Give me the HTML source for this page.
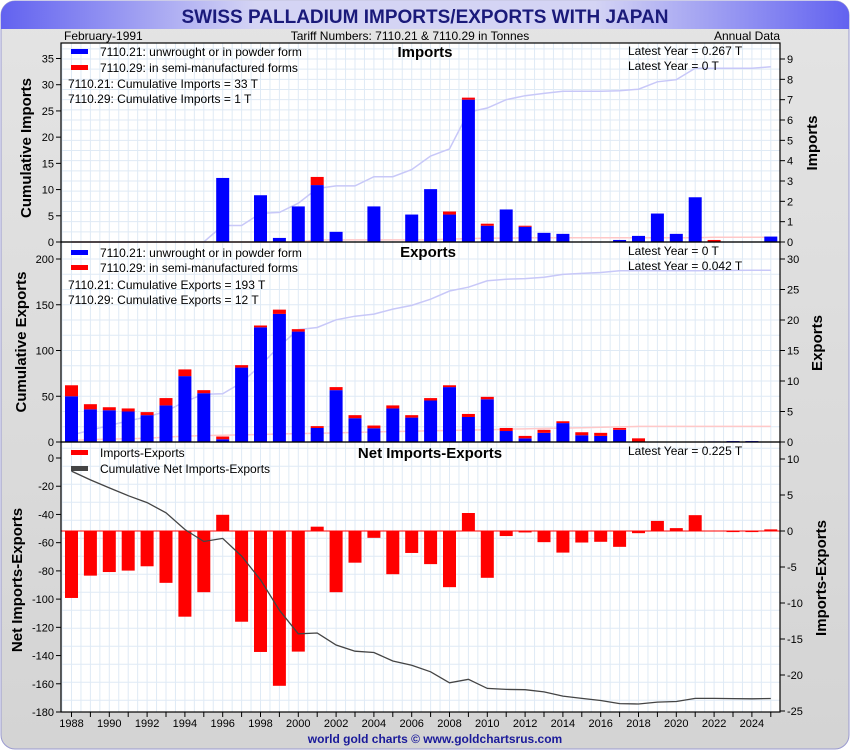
<!DOCTYPE html>
<html><head><meta charset="utf-8"><style>
html,body{margin:0;padding:0;background:#fff}
svg{display:block;font-family:"Liberation Sans",sans-serif}
</style></head><body>
<svg id="c" width="850" height="750" viewBox="0 0 850 750" xmlns="http://www.w3.org/2000/svg">
<defs>
<linearGradient id="bg" x1="0" y1="0" x2="0" y2="1"><stop offset="0" stop-color="#e4e4e4"/><stop offset="1" stop-color="#d4d4d4"/></linearGradient>
<linearGradient id="tb" x1="0" y1="0" x2="1" y2="0"><stop offset="0" stop-color="#6262f0"/><stop offset="0.3" stop-color="#d4d4f4"/><stop offset="0.7" stop-color="#d4d4f4"/><stop offset="1" stop-color="#6262f0"/></linearGradient>
</defs>
<rect x="1" y="1" width="848" height="748" rx="14" fill="url(#bg)" stroke="#9a9ad0"/>
<path d="M1 29 V15 A14 14 0 0 1 15 1 H835 A14 14 0 0 1 849 15 V29 Z" fill="url(#tb)"/>
<text x="425" y="23" text-anchor="middle" font-size="19" font-weight="bold" fill="#1a1a7a">SWISS PALLADIUM IMPORTS/EXPORTS WITH JAPAN</text>
<text x="64" y="40" font-size="12" fill="#000">February-1991</text>
<text x="410" y="40" text-anchor="middle" font-size="12" fill="#000">Tariff Numbers: 7110.21 &amp; 7110.29 in Tonnes</text>
<text x="780" y="40" text-anchor="end" font-size="12" fill="#000">Annual Data</text>
<rect x="61" y="43" width="719" height="669" fill="#fff"/>
<g id="grid"></g>
<g id="marks"></g>
<g id="axes"></g>
<text x="435" y="743" text-anchor="middle" font-size="12" font-weight="bold" fill="#1a1a9a">world gold charts © www.goldchartsrus.com</text>
</svg>
<script>
const years = [];
for (let y = 1988; y <= 2025; y++) years.push(y);
const imp21 = [0,0,0,0,0,0,0,0,3.15,0,2.3,0.2,1.75,2.8,0.5,0,1.75,0,1.35,2.6,1.35,7.0,0.8,1.6,0.75,0.45,0.4,0,0,0.1,0.3,1.4,0.4,2.2,0,0,0,0.267];
const imp29 = [0,0,0,0,0,0,0,0,0,0,0,0,0,0.4,0,0,0,0,0,0,0.15,0.1,0.1,0,0.05,0,0,0,0,0,0,0,0,0,0.1,0,0,0];
const exp21 = [7.5,5.35,5.2,5.0,4.4,6.0,10.8,8.0,0.45,12.2,18.8,21.0,18.1,2.3,8.5,3.9,2.25,5.5,4.0,6.8,9.0,4.1,7.0,1.8,0.6,1.5,3.1,1.1,1.0,2.0,0,0,0,0,0.1,0.15,0.15,0];
const exp29 = [1.8,0.85,0.5,0.5,0.5,1.2,1.1,0.5,0.45,0.4,0.3,0.7,0.4,0.3,0.5,0.5,0.45,0.5,0.4,0.4,0.3,0.5,0.4,0.5,0.4,0.5,0.3,0.5,0.5,0.3,0.6,0,0,0,0,0,0,0.042];
const impLeftTicks = [0,5,10,15,20,25,30,35];
const impRightTicks = [0,1,2,3,4,5,6,7,8,9];
const expLeftTicks = [0,50,100,150,200];
const expRightTicks = [0,5,10,15,20,25,30];
const netLeftTicks = [0,-20,-40,-60,-80,-100,-120,-140,-160,-180];
const netRightTicks = [10,5,0,-5,-10,-15,-20,-25];
const xTickYears = [1988,1990,1992,1994,1996,1998,2000,2002,2004,2006,2008,2010,2012,2014,2016,2018,2020,2022,2024];

const NS = "http://www.w3.org/2000/svg";
const L = 61, R = 780;
const step = 18.9;
const xs = y => 71.5 + (y - 1988) * step;
const lin = (v0, p0, v1, p1) => v => p0 + (v - v0) * (p1 - p0) / (v1 - v0);
const impL = lin(0, 242, 35, 58.5), impR = lin(0, 242, 9, 59);
const expL = lin(0, 442, 200, 259), expR = lin(0, 442, 30, 259);
const netL = lin(0, 458, -180, 712), netR = lin(0, 531, 10, 459);

function mk(tag, attrs, parent, txt) {
  const e = document.createElementNS(NS, tag);
  for (const k in attrs) e.setAttribute(k, attrs[k]);
  if (txt !== undefined) e.textContent = txt;
  parent.appendChild(e);
  return e;
}
const grid = document.getElementById('grid'), marks = document.getElementById('marks'), axes = document.getElementById('axes');

// grid
for (let i = 0; i < 76; i++) {
  const x = 71.5 - step / 2 + i * step / 2;
  if (x < L || x > R) continue;
  const g = mk('line', {x1: x, x2: x, y1: 43, y2: 712, stroke: '#dfeaf5', 'stroke-width': 1}, grid);
  
  
}
function hgrid(fn, from, to, st, top, bot) {
  for (let v = from; v <= to + 1e-9; v += st) {
    const y = fn(v); if (y < top || y > bot) continue;
    const g = mk('line', {x1: L, x2: R, y1: y, y2: y, stroke: '#dfeaf5', 'stroke-width': 1}, grid);
    
    
  }
}
hgrid(impR, 0, 10, 0.5, 43, 242);
hgrid(expR, 0, 32, 2.5, 242, 442);
hgrid(netR, -26, 12, 2.5, 442, 712);

function cum(arr) { let s = 0; return arr.map(v => s += v); }
function line(vals, fn, color, w, name) {
  const pts = vals.map((v, i) => xs(years[i]).toFixed(1) + ',' + fn(v).toFixed(1)).join(' ');
  const p = mk('polyline', {points: pts, fill: 'none', stroke: color, 'stroke-width': w}, marks);
  
  
}
const bw = 13;
function stacked(a, b, fn, pre) {
  years.forEach((yr, i) => {
    const x = xs(yr) - bw / 2;
    if (a[i] > 0) {
      const r = mk('rect', {x: x, y: fn(a[i]), width: bw, height: fn(0) - fn(a[i]), fill: '#0000ff'}, marks);
      
      
    }
    if (b[i] > 0) {
      const r = mk('rect', {x: x, y: fn(a[i] + b[i]), width: bw, height: fn(a[i]) - fn(a[i] + b[i]), fill: '#ff0000'}, marks);
      
      
    }
  });
}
// imports
line(cum(imp21), impL, '#c8c8f8', 1.5, 'imports-cumulative-7110-21-line');
line(cum(imp29), impL, '#ffc8c8', 1.5, 'imports-cumulative-7110-29-line');
stacked(imp21, imp29, impR, 'imports');
// exports
line(cum(exp21), expL, '#c8c8f8', 1.5, 'exports-cumulative-7110-21-line');
line(cum(exp29), expL, '#ffc8c8', 1.5, 'exports-cumulative-7110-29-line');
stacked(exp21, exp29, expR, 'exports');
// net
const net = years.map((y, i) => imp21[i] + imp29[i] - exp21[i] - exp29[i]);
years.forEach((yr, i) => {
  const v = net[i];
  const y0 = netR(0), y1 = netR(v);
  const r = mk('rect', {x: xs(yr) - bw / 2, y: Math.min(y0, y1), width: bw, height: Math.abs(y1 - y0), fill: '#ff0000'}, marks);
  
  
});
const z = mk('line', {x1: L, x2: R, y1: netR(0), y2: netR(0), stroke: '#ff0000', 'stroke-width': 1}, marks);


line(cum(net), netL, '#444444', 1.3, 'cumulative-net-line');

// axes frames
[[43, 242], [242, 442], [442, 712]].forEach((p, i) => {
  const r = mk('rect', {x: L, y: p[0], width: R - L, height: p[1] - p[0], fill: 'none', stroke: '#000', 'stroke-width': 1.2}, axes);
  
  
});
function ticks(vals, fn, side, name) {
  vals.forEach(v => {
    const y = fn(v);
    const xa = side === 'L' ? L : R;
    const t = mk('line', {x1: xa, x2: side === 'L' ? xa - 5 : xa + 5, y1: y, y2: y, stroke: '#000'}, axes);
    
    
    const tx = mk('text', {x: side === 'L' ? L - 7 : R + 7, y: y + 4, 'font-size': 11, 'text-anchor': side === 'L' ? 'end' : 'start'}, axes, String(v));
    
    
  });
}
ticks(impLeftTicks, impL, 'L', 'imports-left-axis');
ticks(impRightTicks, impR, 'R', 'imports-right-axis');
ticks(expLeftTicks, expL, 'L', 'exports-left-axis');
ticks(expRightTicks, expR, 'R', 'exports-right-axis');
ticks(netLeftTicks, netL, 'L', 'net-left-axis');
ticks(netRightTicks, netR, 'R', 'net-right-axis');
years.forEach(yr => {
  const t = mk('line', {x1: xs(yr), x2: xs(yr), y1: 712, y2: 717, stroke: '#000'}, axes);
  
  
});
xTickYears.forEach(yr => {
  const t = mk('text', {x: xs(yr), y: 727, 'font-size': 11, 'text-anchor': 'middle'}, axes, String(yr));
  
  
});
function vtitle(txt, x, y, name) {
  const t = mk('text', {x: x, y: y, 'font-size': 15, 'font-weight': 'bold', 'text-anchor': 'middle', transform: 'rotate(-90 ' + x + ' ' + y + ')'}, axes, txt);
  
  
}
vtitle('Cumulative Imports', 31, 148, 'imports-left-title');
vtitle('Imports', 817, 143, 'imports-right-title');
vtitle('Cumulative Exports', 26, 342, 'exports-left-title');
vtitle('Exports', 822, 343, 'exports-right-title');
vtitle('Net Imports-Exports', 22, 580, 'net-left-title');
vtitle('Imports-Exports', 826, 578, 'net-right-title');
function txt(s, x, y, size, name, opts) {
  const a = Object.assign({x: x, y: y, 'font-size': size}, opts || {});
  const t = mk('text', a, axes, s);
  
  
}
function sw(x, y, c, name) {
  const r = mk('rect', {x: x, y: y, width: 17, height: 5, fill: c}, axes);
  
  
}
// imports legend
sw(71, 49, '#0000ff', 'imports-legend-7110-21-swatch');
txt('7110.21: unwrought or in powder form', 100, 56, 12, 'imports-legend-7110-21');
sw(71, 65, '#ff0000', 'imports-legend-7110-29-swatch');
txt('7110.29: in semi-manufactured forms', 100, 72, 12, 'imports-legend-7110-29');
txt('7110.21: Cumulative Imports = 33 T', 68, 88, 12, 'imports-cumulative-7110-21-note');
txt('7110.29: Cumulative Imports = 1 T', 68, 103, 12, 'imports-cumulative-7110-29-note');
txt('Imports', 425, 57, 15, 'imports-panel-title', {'font-weight': 'bold', 'text-anchor': 'middle'});
txt('Latest Year = 0.267 T', 628, 55, 12, 'imports-latest-7110-21');
txt('Latest Year = 0 T', 628, 70, 12, 'imports-latest-7110-29');
// exports legend
sw(71, 250, '#0000ff', 'exports-legend-7110-21-swatch');
txt('7110.21: unwrought or in powder form', 100, 257, 12, 'exports-legend-7110-21');
sw(71, 265, '#ff0000', 'exports-legend-7110-29-swatch');
txt('7110.29: in semi-manufactured forms', 100, 272, 12, 'exports-legend-7110-29');
txt('7110.21: Cumulative Exports = 193 T', 68, 289, 12, 'exports-cumulative-7110-21-note');
txt('7110.29: Cumulative Exports = 12 T', 68, 304, 12, 'exports-cumulative-7110-29-note');
txt('Exports', 428, 257, 15, 'exports-panel-title', {'font-weight': 'bold', 'text-anchor': 'middle'});
txt('Latest Year = 0 T', 628, 255, 12, 'exports-latest-7110-21');
txt('Latest Year = 0.042 T', 628, 270, 12, 'exports-latest-7110-29');
// net legend
sw(71, 450, '#ff0000', 'net-legend-bars-swatch');
txt('Imports-Exports', 100, 457, 12, 'net-legend-bars');
sw(71, 466, '#444444', 'net-legend-line-swatch');
txt('Cumulative Net Imports-Exports', 100, 473, 12, 'net-legend-line');
txt('Net Imports-Exports', 430, 458, 15, 'net-panel-title', {'font-weight': 'bold', 'text-anchor': 'middle'});
txt('Latest Year = 0.225 T', 628, 455, 12, 'net-latest');
</script>
</body></html>
